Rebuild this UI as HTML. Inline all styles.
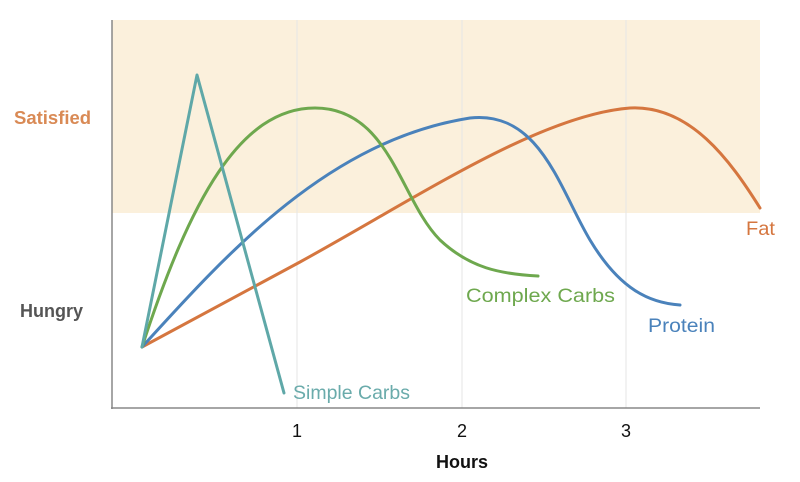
<!DOCTYPE html>
<html><head><style>body{margin:0;background:#fff}</style></head><body>
<svg width="800" height="477" xmlns="http://www.w3.org/2000/svg" font-family="Liberation Sans, sans-serif">
<rect x="112" y="20" width="648" height="193" fill="#fbf0dc"/>
<g stroke="#e6e6e6" stroke-width="1">
<line x1="297" y1="20" x2="297" y2="408"/><line x1="462" y1="20" x2="462" y2="408"/><line x1="626" y1="20" x2="626" y2="408"/>
</g>
<line x1="112" y1="20" x2="112" y2="409" stroke="#888" stroke-width="1.5"/>
<line x1="111" y1="408" x2="760" y2="408" stroke="#888" stroke-width="1.5"/>
<g fill="none" stroke-width="3" stroke-linecap="round" stroke-linejoin="round">
<path d="M142,347 L300,262 C420,196 540,115 630,108 C690,105 730,160 760,208" stroke="#d5763f"/>
<path d="M142,347 C230,250 330,140 470,118 C540,110 560,190 590,240 C620,290 650,303 680,305" stroke="#4a82bb"/>
<path d="M142,347 C190,200 240,108 315,108 C390,108 400,200 440,240 C470,268 500,274 538,276" stroke="#6ea84e"/>
<path d="M142,347 L197,75 L284,393" stroke="#5fa8a8"/>
</g>
<text x="14" y="124" font-size="18.5" font-weight="bold" fill="#d98a55">Satisfied</text>
<text x="20" y="317" font-size="18" font-weight="bold" fill="#555">Hungry</text>
<text x="293" y="399" font-size="19.5" textLength="117" lengthAdjust="spacingAndGlyphs" fill="#6aabab">Simple Carbs</text>
<text x="466" y="302" font-size="19.5" textLength="149" lengthAdjust="spacingAndGlyphs" fill="#6ea84e">Complex Carbs</text>
<text x="648" y="332" font-size="19.5" textLength="67" lengthAdjust="spacingAndGlyphs" fill="#4a82bb">Protein</text>
<text x="746" y="235" font-size="19.5" textLength="29" lengthAdjust="spacingAndGlyphs" fill="#d5763f">Fat</text>
<g font-size="18" fill="#111" text-anchor="middle">
<text x="297" y="437">1</text><text x="462" y="437">2</text><text x="626" y="437">3</text>
<text x="462" y="468" font-weight="bold">Hours</text>
</g>
</svg>
</body></html>
